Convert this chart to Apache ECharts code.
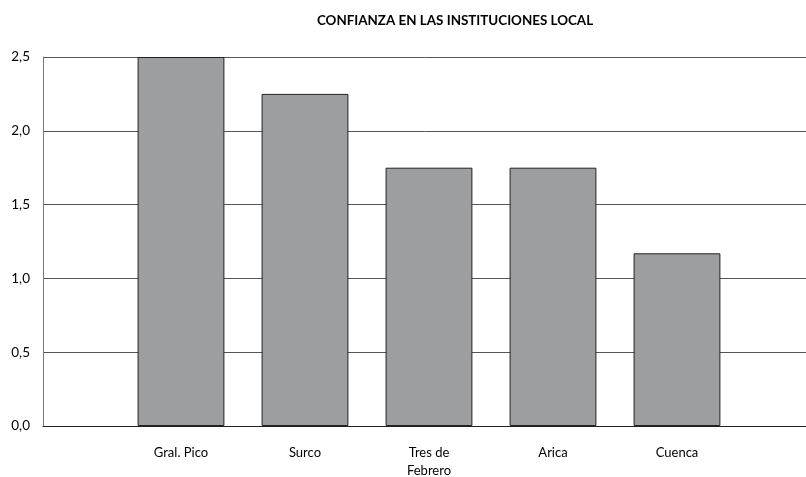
<!DOCTYPE html>
<html><head><meta charset="utf-8">
<script src="https://cdn.jsdelivr.net/npm/echarts@6/dist/echarts.min.js"></script>
<style>html,body{margin:0;padding:0;background:#fff}#c{width:806px;height:477px}</style>
</head><body><div id="c"></div>
<script>
const title = 'CONFIANZA EN LAS INSTITUCIONES LOCAL';
const categories = ['Gral. Pico', 'Surco', 'Tres de\nFebrero', 'Arica', 'Cuenca'];
const values = [2.5, 2.25, 1.75, 1.75, 1.17];
const yMin = 0, yMax = 2.5, yStep = 0.5;

const font = 'Lato, "Open Sans", sans-serif';
const chart = echarts.init(document.getElementById('c'), null, {renderer: 'canvas'});
chart.setOption({
  animation: false,
  backgroundColor: '#fff',
  title: {
    text: title, left: 450, top: 9, textAlign: 'center',
    textStyle: {fontFamily: font, fontSize: 13.4, fontWeight: 'bold', color: '#000'}
  },
  grid: [
    {left: 43, right: 0, top: 57, bottom: 51, outerBoundsMode: 'none', containLabel: false},
    {left: 119, right: 67, top: 57, bottom: 51, outerBoundsMode: 'none', containLabel: false}
  ],
  xAxis: [
    {gridIndex: 0, type: 'category', data: [''], axisLine: {show: true, lineStyle: {color: '#222', width: 1.2}},
     axisTick: {show: false}, axisLabel: {show: false}},
    {gridIndex: 1, type: 'category', data: categories, axisLine: {show: false}, axisTick: {show: false},
     axisLabel: {margin: 18, fontFamily: font, fontSize: 13, color: '#000', lineHeight: 18}}
  ],
  yAxis: [
    {gridIndex: 0, type: 'value', min: yMin, max: yMax, interval: yStep,
     axisLine: {show: true, lineStyle: {color: '#777', width: 1}}, axisTick: {show: false},
     axisLabel: {margin: 13, fontFamily: font, fontSize: 13.5, color: '#000',
       formatter: v => v.toFixed(1).replace('.', ',')},
     splitLine: {show: true, lineStyle: {color: '#555', width: 1}}},
    {gridIndex: 1, type: 'value', min: yMin, max: yMax, interval: yStep, show: false,
     splitLine: {show: false}}
  ],
  series: [{
    type: 'bar', xAxisIndex: 1, yAxisIndex: 1, data: values, barCategoryGap: '30%',
    itemStyle: {color: '#9d9ea0', borderColor: '#222', borderWidth: 1}
  }]
});
</script></body></html>
